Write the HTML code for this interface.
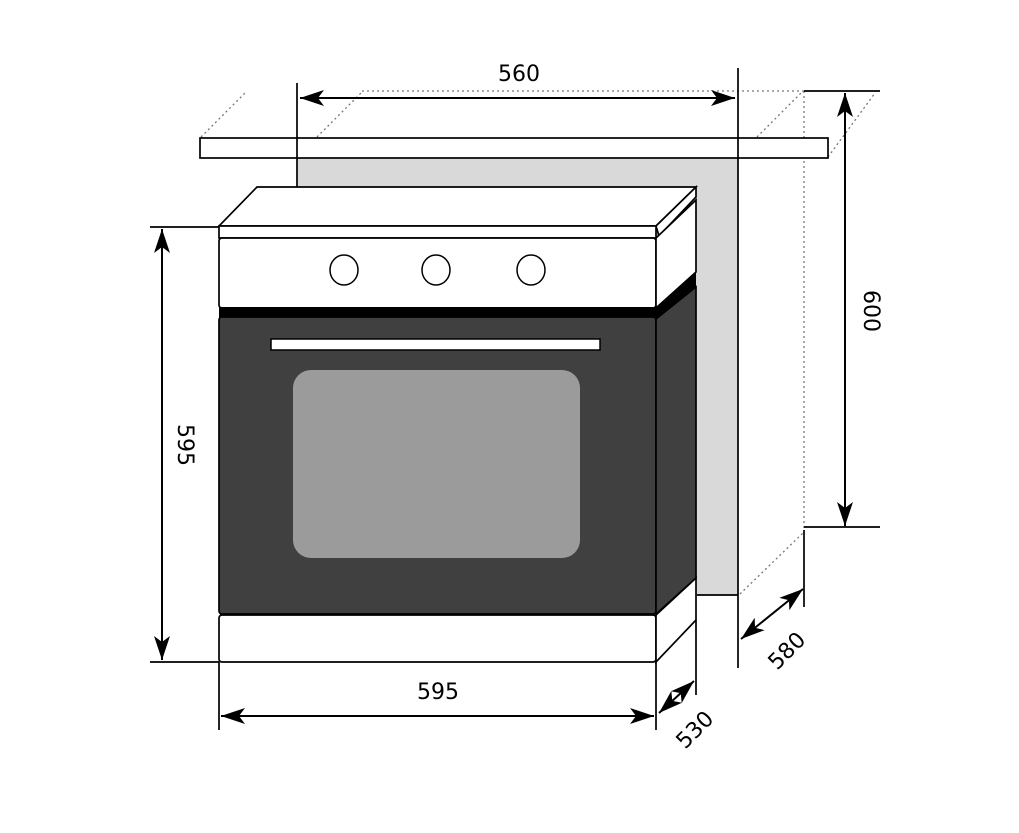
<!DOCTYPE html>
<html><head><meta charset="utf-8"><style>
html,body{margin:0;padding:0;background:#fff;width:1019px;height:833px;overflow:hidden}
svg{display:block}
text{font-family:"DejaVu Sans","Liberation Sans",sans-serif;font-size:22px;fill:#000}
</style></head><body>
<svg width="1019" height="833" viewBox="0 0 1019 833" xmlns="http://www.w3.org/2000/svg">
<defs>
<marker id="a" viewBox="0 0 24 16" refX="24" refY="8" markerWidth="24" markerHeight="16" markerUnits="userSpaceOnUse" orient="auto-start-reverse">
<path d="M0,0 L24,8 L0,16 L6,8 Z" fill="#000"/></marker>
</defs>
<rect x="297" y="158" width="441" height="437" fill="#d9d9d9"/>
<g stroke="#777" stroke-width="1.3" stroke-dasharray="2,3" fill="none">
<line x1="201" y1="137" x2="246" y2="92"/>
<line x1="317" y1="137" x2="362" y2="92"/>
<line x1="757" y1="137" x2="802" y2="92"/>
<line x1="828" y1="157" x2="875" y2="93"/>
<line x1="362" y1="91" x2="804" y2="91"/>
<line x1="804" y1="91" x2="804" y2="530"/>
<line x1="740" y1="594" x2="804" y2="532"/>
</g>
<rect x="200" y="138" width="628" height="20" fill="#fff" stroke="#000" stroke-width="1.7"/>
<g stroke="#000" stroke-width="1.7" fill="none">
<line x1="297" y1="83" x2="297" y2="187"/>
<line x1="738" y1="68" x2="738" y2="668"/>
<line x1="697" y1="595" x2="738" y2="595"/>
<line x1="804" y1="91" x2="880" y2="91"/>
<line x1="804" y1="527" x2="880" y2="527"/>
<line x1="804" y1="530" x2="804" y2="607"/>
</g>
<polygon points="257,187 696,187 656,226 219,226" fill="#fff" stroke="#000" stroke-width="1.7"/>
<polygon points="696,187 696,197 659,236 656,226" fill="#fff" stroke="#000" stroke-width="1.7"/>
<rect x="219" y="226" width="437" height="12" fill="#fff" stroke="#000" stroke-width="1.7"/>
<rect x="219" y="238" width="437" height="70" rx="3" fill="#fff" stroke="#000" stroke-width="1.7"/>
<polygon points="656,238 696,200 696,272 656,308" fill="#fff" stroke="#000" stroke-width="1.7"/>
<ellipse cx="344" cy="270" rx="14" ry="15" fill="#fff" stroke="#000" stroke-width="1.5"/>
<ellipse cx="436" cy="270" rx="14" ry="15" fill="#fff" stroke="#000" stroke-width="1.5"/>
<ellipse cx="531" cy="270" rx="14" ry="15" fill="#fff" stroke="#000" stroke-width="1.5"/>
<rect x="219" y="307" width="437" height="12" fill="#000"/>
<polygon points="656,307 696,272 696,287 656,319" fill="#000"/>
<rect x="219" y="317" width="437" height="297" rx="3" fill="#404040" stroke="#000" stroke-width="1.7"/>
<polygon points="656,319 696,287 696,578 656,614" fill="#404040" stroke="#000" stroke-width="1.7"/>
<rect x="271" y="339" width="329" height="11" fill="#fff" stroke="#000" stroke-width="1.5"/>
<rect x="293" y="370" width="287" height="188" rx="18" fill="#9b9b9b"/>
<rect x="219" y="615" width="437" height="47" rx="3" fill="#fff" stroke="#000" stroke-width="1.7"/>
<polygon points="656,615 696,578 696,620 656,662" fill="#fff" stroke="#000" stroke-width="1.7"/>
<g stroke="#000" stroke-width="1.7" fill="none">
<line x1="150" y1="227" x2="219" y2="227"/>
<line x1="150" y1="662" x2="219" y2="662"/>
<line x1="219" y1="662" x2="219" y2="730"/>
<line x1="656" y1="662" x2="656" y2="730"/>
<line x1="696" y1="620" x2="696" y2="695"/>
</g>
<g stroke="#000" stroke-width="2" fill="none" marker-start="url(#a)" marker-end="url(#a)">
<line x1="300" y1="98" x2="735" y2="98"/>
<line x1="845" y1="93" x2="845" y2="526"/>
<line x1="162" y1="229" x2="162" y2="660"/>
<line x1="221" y1="716" x2="654" y2="716"/>
<line x1="659" y1="713" x2="694" y2="681"/>
<line x1="741" y1="639" x2="803" y2="589"/>
</g>
<text x="519" y="81" text-anchor="middle">560</text>
<text x="438" y="699" text-anchor="middle">595</text>
<text transform="translate(178,445) rotate(90)" text-anchor="middle">595</text>
<text transform="translate(864,311) rotate(90)" text-anchor="middle">600</text>
<text transform="translate(700,735) rotate(-45)" text-anchor="middle">530</text>
<text transform="translate(792,656) rotate(-45)" text-anchor="middle">580</text>
</svg>
</body></html>
